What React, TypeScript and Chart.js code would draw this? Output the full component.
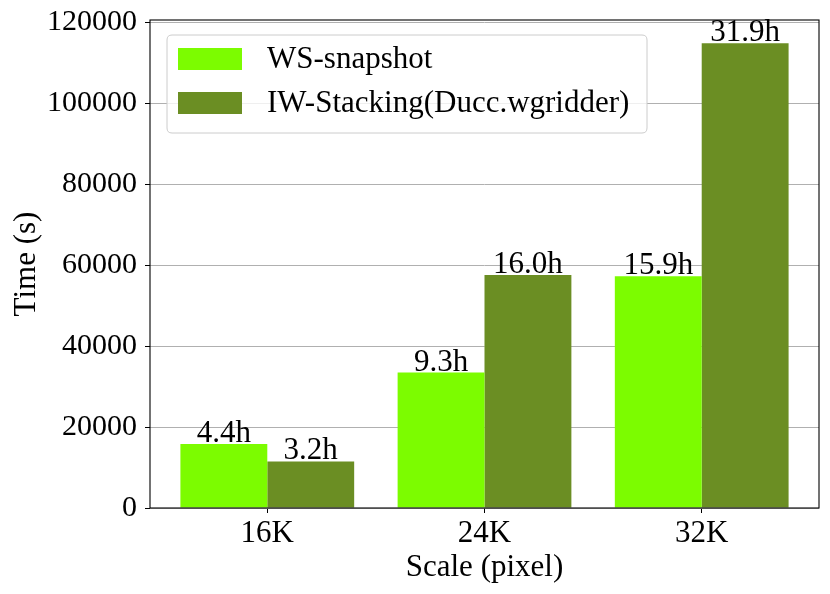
import React, { useEffect, useRef } from "react";
import { Chart, registerables } from "chart.js";

Chart.register(...registerables);

const categories = ["16K", "24K", "32K"];
const seriesNames = ["WS-snapshot", "IW-Stacking(Ducc.wgridder)"];
const wsSeconds = [15840, 33480, 57240];
const iwSeconds = [11520, 57600, 114840];
const wsLabels = ["4.4h", "9.3h", "15.9h"];
const iwLabels = ["3.2h", "16.0h", "31.9h"];
const yTicks = [0, 20000, 40000, 60000, 80000, 100000, 120000];
const xTicks = [0, 1, 2];

const colors = ["#7CFC00", "#6B8E23"];
const FONT = "'Liberation Serif', 'Times New Roman', serif";

export default function App() {
  const ref = useRef<HTMLCanvasElement | null>(null);

  useEffect(() => {
    if (!ref.current) return;
    const labelsPlugin = {
      id: "barLabels",
      afterDatasetsDraw(chart: any) {
        const ctx = chart.ctx;
        ctx.save();
        ctx.font = `31px ${FONT}`;
        ctx.fillStyle = "#000";
        ctx.textAlign = "center";
        ctx.textBaseline = "alphabetic";
        const all = [wsLabels, iwLabels];
        chart.data.datasets.forEach((ds: any, di: number) => {
          const meta = chart.getDatasetMeta(di);
          meta.data.forEach((bar: any, i: number) => {
            ctx.fillText(all[di][i], bar.x, bar.y - 2);
          });
        });
        ctx.restore();
      },
      afterDraw(chart: any) {
        const ctx = chart.ctx;
        const a = chart.chartArea;
        ctx.save();
        ctx.strokeStyle = "#000";
        ctx.lineWidth = 1.1;
        ctx.strokeRect(a.left, a.top, a.right - a.left, a.bottom - a.top);
        // legend
        const lx = 167, ly = 35, lw = 480, lh = 98, r = 5;
        ctx.beginPath();
        ctx.moveTo(lx + r, ly);
        ctx.lineTo(lx + lw - r, ly);
        ctx.quadraticCurveTo(lx + lw, ly, lx + lw, ly + r);
        ctx.lineTo(lx + lw, ly + lh - r);
        ctx.quadraticCurveTo(lx + lw, ly + lh, lx + lw - r, ly + lh);
        ctx.lineTo(lx + r, ly + lh);
        ctx.quadraticCurveTo(lx, ly + lh, lx, ly + lh - r);
        ctx.lineTo(lx, ly + r);
        ctx.quadraticCurveTo(lx, ly, lx + r, ly);
        ctx.closePath();
        ctx.fillStyle = "rgba(255,255,255,0.8)";
        ctx.fill();
        ctx.strokeStyle = "#cccccc";
        ctx.lineWidth = 1;
        ctx.stroke();
        ctx.font = `31px ${FONT}`;
        ctx.textAlign = "left";
        ctx.textBaseline = "middle";
        const rows = [59, 103];
        seriesNames.forEach((name, i) => {
          ctx.fillStyle = colors[i];
          ctx.fillRect(178, rows[i] - 11, 64, 22);
          ctx.fillStyle = "#000";
          ctx.fillText(name, 267, rows[i] + 1);
        });
        ctx.restore();
      },
    };

    const chart = new Chart(ref.current, {
      type: "bar",
      data: {
        datasets: [
          {
            label: seriesNames[0],
            data: wsSeconds.map((v, i) => ({ x: xTicks[i], y: v })),
            backgroundColor: colors[0],
            borderWidth: 0,
          },
          {
            label: seriesNames[1],
            data: iwSeconds.map((v, i) => ({ x: xTicks[i], y: v })),
            backgroundColor: colors[1],
            borderWidth: 0,
          },
        ],
      },
      options: {
        animation: false,
        responsive: false,
        maintainAspectRatio: false,
        datasets: { bar: { categoryPercentage: 0.8, barPercentage: 1.0 } },
        layout: { padding: { top: 20, right: 11, left: 0, bottom: 0 } },
        plugins: { legend: { display: false }, tooltip: { enabled: false } },
        scales: {
          x: {
            type: "linear",
            offset: false,
            min: -0.54,
            max: 2.54,
            afterBuildTicks: (s: any) => {
              s.ticks = xTicks.map((v) => ({ value: v }));
            },
            afterFit: (s: any) => {
              s.height = 86;
              s.paddingLeft = 0;
              s.paddingRight = 0;
            },
            grid: {
              offset: false,
              drawOnChartArea: false,
              drawTicks: true,
              tickLength: 5,
              tickColor: "#000",
              color: "#000",
            },
            border: { display: false },
            ticks: {
              color: "#000",
              font: { family: FONT, size: 31 },
              padding: 2,
              autoSkip: false,
              maxRotation: 0,
              callback: (v: any) => categories[Number(v)] ?? "",
            },
            title: {
              display: true,
              text: "Scale (pixel)",
              color: "#000",
              font: { family: FONT, size: 31 },
              padding: { top: 0, bottom: 8 },
            },
          },
          y: {
            min: 0,
            max: 120582,
            afterBuildTicks: (s: any) => {
              s.ticks = yTicks.map((v) => ({ value: v }));
            },
            afterFit: (s: any) => {
              s.width = 150;
              s.paddingTop = 0;
              s.paddingBottom = 0;
            },
            grid: {
              color: "#b0b0b0",
              lineWidth: 1,
              drawTicks: true,
              tickLength: 5,
              tickColor: "#000",
            },
            border: { display: false },
            ticks: {
              color: "#000",
              font: { family: FONT, size: 30 },
              padding: 8,
              callback: (v: any) => String(v),
            },
            title: {
              display: true,
              text: "Time (s)",
              color: "#000",
              font: { family: FONT, size: 31 },
              padding: { top: 8, bottom: 0 },
            },
          },
        },
      },
      plugins: [labelsPlugin],
    } as any);
    return () => chart.destroy();
  }, []);

  return (
    <div style={{ position: "fixed", left: 0, top: 0, width: 830, height: 594, background: "#fff" }}>
      <canvas ref={ref} width={830} height={594} style={{ width: 830, height: 594 }} />
    </div>
  );
}
